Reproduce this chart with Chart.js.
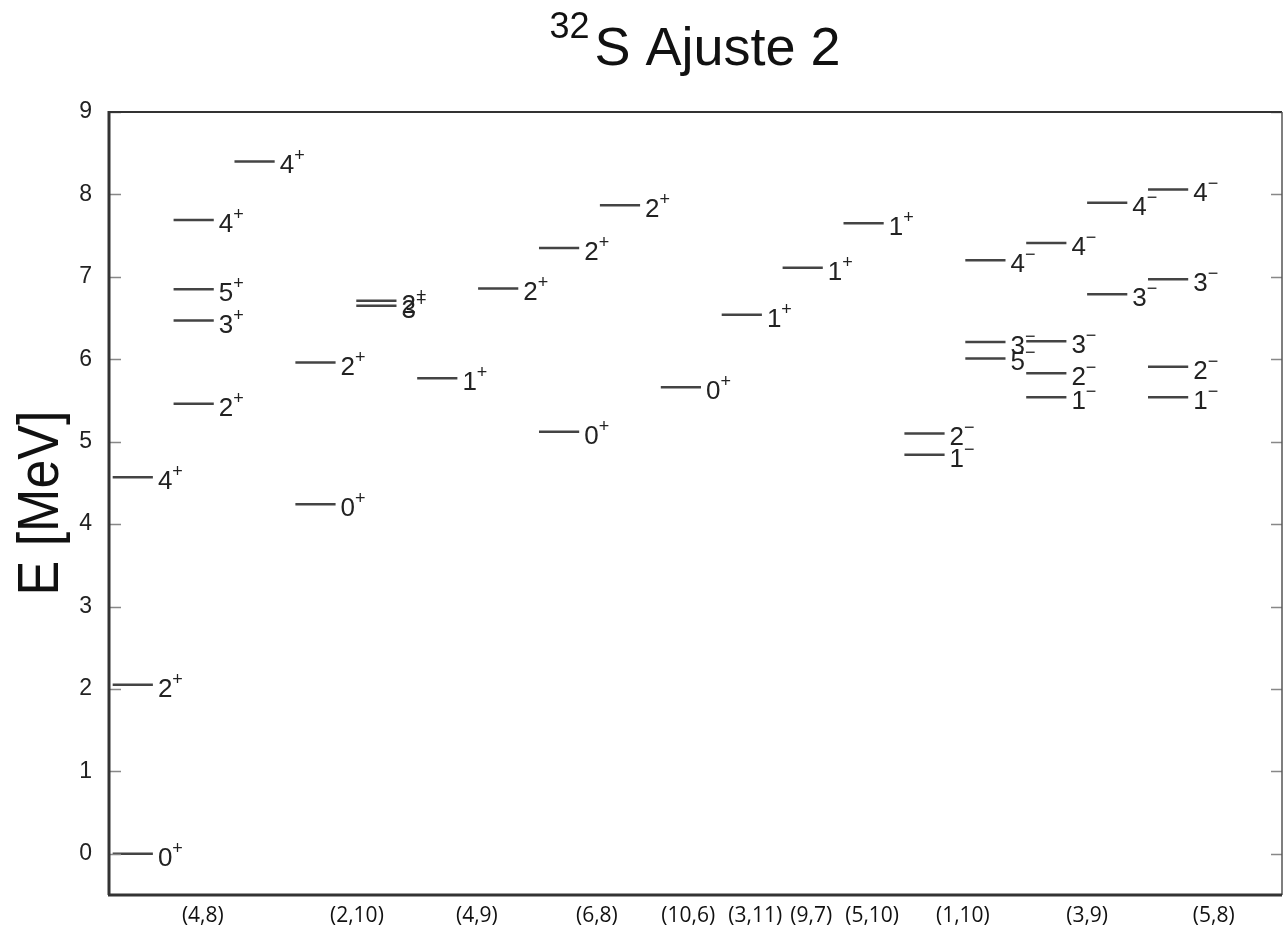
<!DOCTYPE html>
<html>
<head>
<meta charset="utf-8">
<script src="https://cdn.jsdelivr.net/npm/chart.js@4/dist/chart.umd.min.js"></script>
<style>
  html, body { margin: 0; padding: 0; background: #fff; }
  #wrap { width: 1283px; height: 928px; }
</style>
</head>
<body>
<div id="wrap"><canvas id="levels" width="1283" height="928"></canvas></div>
<script>
// configuration groups shown under the axis, and where they sit on the x scale
const groupLabels = ['(4,8)', '(2,10)', '(4,9)', '(6,8)', '(10,6)', '(3,11)', '(9,7)', '(5,10)', '(1,10)', '(3,9)', '(5,8)'];
const groupAt = [1.48, 4.01, 5.98, 7.95, 9.45, 10.55, 11.47, 12.47, 13.96, 16.0, 18.08];

// energy levels: column, energy (MeV), spin/parity
const levelColumn = [0, 0, 0,  1, 1, 1, 1,  2,  3, 3,  4, 4,  5,  6,  7, 7,  8,  9,  10,  11,  12,  13, 13,  14, 14, 14,  15, 15, 15, 15,  16, 16,  17, 17, 17, 17];
const levelEnergy = [0, 2.05, 4.57,  5.46, 6.47, 6.85, 7.69,  8.40,  4.24, 5.96,  6.65, 6.71,  5.77,  6.86,  5.12, 7.35,  7.87,  5.66,  6.54,  7.11,  7.65,  4.84, 5.10,  6.01, 6.21, 7.20,  5.54, 5.83, 6.22, 7.41,  6.79, 7.90,  5.54, 5.91, 6.97, 8.06];
const levelSpin = ['0+', '2+', '4+',  '2+', '3+', '5+', '4+',  '4+',  '0+', '2+',  '3+', '2+',  '1+',  '2+',  '0+', '2+',  '2+',  '0+',  '1+',  '1+',  '1+',  '1-', '2-',  '5-', '3-', '4-',  '1-', '2-', '3-', '4-',  '3-', '4-',  '1-', '2-', '3-', '4-'];

const yTicks = [0, 1, 2, 3, 4, 5, 6, 7, 8, 9];
const barLen = 0.66;

// each level is a short horizontal segment, separated by null gaps
const segs = [];
levelColumn.forEach((c, i) => {
    segs.push({ x: c, y: levelEnergy[i] });
    segs.push({ x: c + barLen, y: levelEnergy[i] });
    segs.push({ x: c + barLen, y: null });
});

const levelLabels = {
    id: 'levelLabels',
    afterDatasetsDraw(chart) {
        const ctx = chart.ctx;
        const xs = chart.scales.x, ys = chart.scales.y;
        ctx.save();
        ctx.fillStyle = '#222';
        ctx.textBaseline = 'alphabetic';
        ctx.textAlign = 'left';
        levelSpin.forEach((s, i) => {
            const px = xs.getPixelForValue(levelColumn[i] + barLen) + 5;
            const py = ys.getPixelForValue(levelEnergy[i]);
            const num = s.slice(0, -1);
            const sign = s.slice(-1) === '+' ? '+' : '\u2212';
            ctx.font = '26px "Liberation Sans", Arial, sans-serif';
            ctx.fillText(num, px, py + 12);
            const w = ctx.measureText(num).width;
            ctx.font = '18px "Liberation Sans", Arial, sans-serif';
            ctx.fillText(sign, px + w, py);
        });
        ctx.restore();
    },
    afterDraw(chart) {
        const ctx = chart.ctx;
        const a = chart.chartArea;
        const ys = chart.scales.y;
        ctx.save();
        // inward tick marks on both sides
        ctx.strokeStyle = '#888';
        ctx.lineWidth = 1.5;
        yTicks.forEach(v => {
            const py = Math.round(ys.getPixelForValue(v)) + 0.5;
            ctx.beginPath();
            ctx.moveTo(a.left, py); ctx.lineTo(a.left + 11, py);
            ctx.moveTo(a.right - 11, py); ctx.lineTo(a.right, py);
            ctx.stroke();
        });
        // frame
        ctx.strokeStyle = '#333';
        ctx.lineWidth = 2;
        ctx.beginPath(); ctx.moveTo(a.left, a.top); ctx.lineTo(a.right, a.top); ctx.stroke();
        ctx.lineWidth = 1.5;
        ctx.strokeStyle = '#555';
        ctx.beginPath(); ctx.moveTo(a.right, a.top); ctx.lineTo(a.right, a.bottom); ctx.stroke();
        ctx.strokeStyle = '#333';
        ctx.lineWidth = 3;
        ctx.beginPath(); ctx.moveTo(a.left - 1, a.top - 1); ctx.lineTo(a.left - 1, a.bottom); ctx.stroke();
        ctx.beginPath(); ctx.moveTo(a.left - 2, a.bottom); ctx.lineTo(a.right, a.bottom); ctx.stroke();

        // y axis title, slightly stretched like the original
        ctx.fillStyle = '#111';
        ctx.translate(40, 503);
        ctx.rotate(-Math.PI / 2);
        ctx.scale(1, 1.1);
        ctx.font = '52px "Liberation Sans", Arial, sans-serif';
        ctx.textAlign = 'center';
        ctx.textBaseline = 'middle';
        ctx.fillText('E [MeV]', 0, 2);
        ctx.restore();

        // title with superscript mass number
        ctx.save();
        ctx.fillStyle = '#111';
        ctx.textBaseline = 'alphabetic';
        ctx.textAlign = 'left';
        ctx.font = '36px "Liberation Sans", Arial, sans-serif';
        const sup = '32';
        const sw = ctx.measureText(sup).width;
        ctx.font = '54px "Liberation Sans", Arial, sans-serif';
        const main = 'S Ajuste 2';
        const mw = ctx.measureText(main).width;
        const x0 = 695 - (sw + 5 + mw) / 2;
        ctx.fillText(main, x0 + sw + 5, 65);
        ctx.font = '36px "Liberation Sans", Arial, sans-serif';
        ctx.fillText(sup, x0, 38);
        ctx.restore();
    }
};

new Chart(document.getElementById('levels'), {
    type: 'line',
    data: {
        datasets: [{
            data: segs,
            borderColor: '#444',
            borderWidth: 2.5,
            pointRadius: 0,
            spanGaps: false,
            tension: 0
        }]
    },
    options: {
        responsive: false,
        animation: false,
        layout: { padding: { top: 112, right: 1, left: 0, bottom: 0 } },
        plugins: { legend: { display: false }, tooltip: { enabled: false } },
        scales: {
            x: {
                type: 'linear',
                min: -0.044,
                max: 19.2,
                grid: { display: false },
                border: { display: false },
                afterBuildTicks: s => { s.ticks = groupAt.map(v => ({ value: v })); },
                afterFit: s => { s.height = 33; },
                ticks: {
                    autoSkip: false,
                    maxRotation: 0,
                    padding: 0,
                    color: '#111',
                    font: { family: '"Open Sans", sans-serif', size: 21 },
                    callback: (v, i) => groupLabels[i]
                }
            },
            y: {
                min: -0.5,
                max: 9,
                grid: { display: false },
                border: { display: false },
                afterBuildTicks: s => { s.ticks = yTicks.map(v => ({ value: v })); },
                afterFit: s => { s.width = 110; },
                ticks: {
                    padding: 10,
                    color: '#222',
                    font: { family: '"Liberation Sans", Arial, sans-serif', size: 23 }
                }
            }
        }
    },
    plugins: [levelLabels]
});
</script>
</body>
</html>
